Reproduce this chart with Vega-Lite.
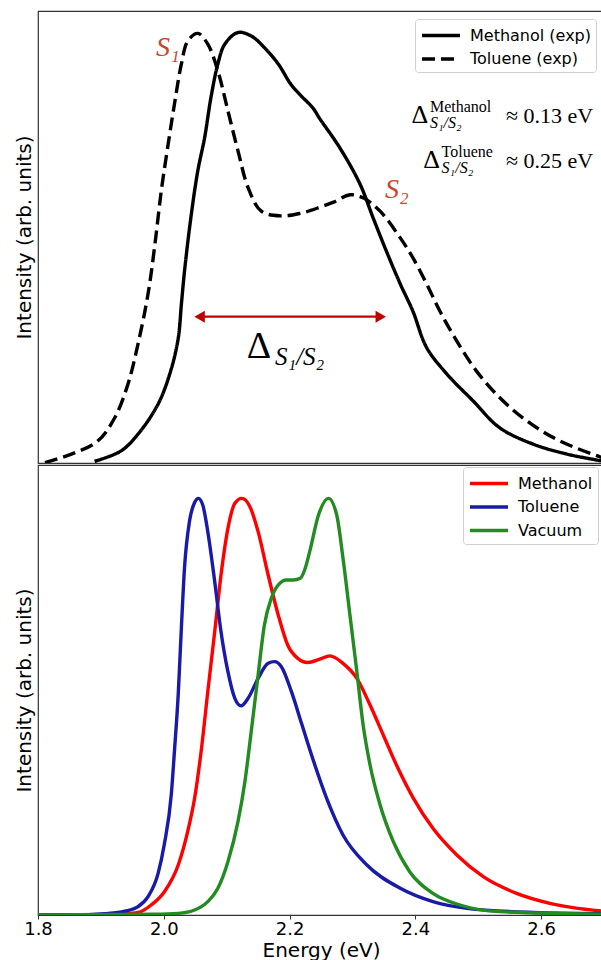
{
  "$schema": "https://vega.github.io/schema/vega-lite/v6.json",
  "padding": {"left": 13, "top": 10, "right": 0, "bottom": 0},
  "spacing": 0,
  "background": "white",
  "config": {
    "view": {"stroke": "#333", "strokeWidth": 1.2},
    "axis": {"grid": false, "labelFont": "DejaVu Sans", "titleFont": "DejaVu Sans", "labelColor": "#000", "titleColor": "#000", "titleFontWeight": "normal", "labelFontSize": 18, "titleFontSize": 20, "tickColor": "#333", "domainColor": "#333"}
  },
  "datasets": {
    "exp": [
      {"series": "Methanol (exp)", "E": 1.890, "I": 0.004},
      {"series": "Methanol (exp)", "E": 1.932, "I": 0.028},
      {"series": "Methanol (exp)", "E": 1.959, "I": 0.067},
      {"series": "Methanol (exp)", "E": 1.991, "I": 0.137},
      {"series": "Methanol (exp)", "E": 2.011, "I": 0.214},
      {"series": "Methanol (exp)", "E": 2.023, "I": 0.29},
      {"series": "Methanol (exp)", "E": 2.028, "I": 0.369},
      {"series": "Methanol (exp)", "E": 2.033, "I": 0.446},
      {"series": "Methanol (exp)", "E": 2.043, "I": 0.569},
      {"series": "Methanol (exp)", "E": 2.054, "I": 0.678},
      {"series": "Methanol (exp)", "E": 2.065, "I": 0.756},
      {"series": "Methanol (exp)", "E": 2.075, "I": 0.849},
      {"series": "Methanol (exp)", "E": 2.086, "I": 0.927},
      {"series": "Methanol (exp)", "E": 2.097, "I": 0.973},
      {"series": "Methanol (exp)", "E": 2.118, "I": 1.0},
      {"series": "Methanol (exp)", "E": 2.139, "I": 0.992},
      {"series": "Methanol (exp)", "E": 2.160, "I": 0.965},
      {"series": "Methanol (exp)", "E": 2.182, "I": 0.927},
      {"series": "Methanol (exp)", "E": 2.202, "I": 0.88},
      {"series": "Methanol (exp)", "E": 2.217, "I": 0.855},
      {"series": "Methanol (exp)", "E": 2.237, "I": 0.825},
      {"series": "Methanol (exp)", "E": 2.248, "I": 0.8},
      {"series": "Methanol (exp)", "E": 2.280, "I": 0.732},
      {"series": "Methanol (exp)", "E": 2.312, "I": 0.648},
      {"series": "Methanol (exp)", "E": 2.333, "I": 0.569},
      {"series": "Methanol (exp)", "E": 2.354, "I": 0.492},
      {"series": "Methanol (exp)", "E": 2.376, "I": 0.416},
      {"series": "Methanol (exp)", "E": 2.396, "I": 0.353},
      {"series": "Methanol (exp)", "E": 2.418, "I": 0.268},
      {"series": "Methanol (exp)", "E": 2.450, "I": 0.207},
      {"series": "Methanol (exp)", "E": 2.492, "I": 0.144},
      {"series": "Methanol (exp)", "E": 2.534, "I": 0.082},
      {"series": "Methanol (exp)", "E": 2.587, "I": 0.044},
      {"series": "Methanol (exp)", "E": 2.640, "I": 0.021},
      {"series": "Methanol (exp)", "E": 2.700, "I": 0.004},
      {"series": "Toluene (exp)", "E": 1.811, "I": 0.001},
      {"series": "Toluene (exp)", "E": 1.852, "I": 0.02},
      {"series": "Toluene (exp)", "E": 1.895, "I": 0.051},
      {"series": "Toluene (exp)", "E": 1.922, "I": 0.105},
      {"series": "Toluene (exp)", "E": 1.943, "I": 0.183},
      {"series": "Toluene (exp)", "E": 1.959, "I": 0.276},
      {"series": "Toluene (exp)", "E": 1.975, "I": 0.393},
      {"series": "Toluene (exp)", "E": 1.986, "I": 0.509},
      {"series": "Toluene (exp)", "E": 1.996, "I": 0.632},
      {"series": "Toluene (exp)", "E": 2.007, "I": 0.741},
      {"series": "Toluene (exp)", "E": 2.017, "I": 0.834},
      {"series": "Toluene (exp)", "E": 2.028, "I": 0.927},
      {"series": "Toluene (exp)", "E": 2.038, "I": 0.98},
      {"series": "Toluene (exp)", "E": 2.054, "I": 0.998},
      {"series": "Toluene (exp)", "E": 2.070, "I": 0.973},
      {"series": "Toluene (exp)", "E": 2.086, "I": 0.911},
      {"series": "Toluene (exp)", "E": 2.102, "I": 0.818},
      {"series": "Toluene (exp)", "E": 2.118, "I": 0.725},
      {"series": "Toluene (exp)", "E": 2.134, "I": 0.64},
      {"series": "Toluene (exp)", "E": 2.155, "I": 0.585},
      {"series": "Toluene (exp)", "E": 2.186, "I": 0.574},
      {"series": "Toluene (exp)", "E": 2.217, "I": 0.58},
      {"series": "Toluene (exp)", "E": 2.248, "I": 0.594},
      {"series": "Toluene (exp)", "E": 2.270, "I": 0.606},
      {"series": "Toluene (exp)", "E": 2.296, "I": 0.623},
      {"series": "Toluene (exp)", "E": 2.317, "I": 0.616},
      {"series": "Toluene (exp)", "E": 2.344, "I": 0.585},
      {"series": "Toluene (exp)", "E": 2.376, "I": 0.523},
      {"series": "Toluene (exp)", "E": 2.396, "I": 0.477},
      {"series": "Toluene (exp)", "E": 2.418, "I": 0.416},
      {"series": "Toluene (exp)", "E": 2.439, "I": 0.353},
      {"series": "Toluene (exp)", "E": 2.466, "I": 0.283},
      {"series": "Toluene (exp)", "E": 2.497, "I": 0.214},
      {"series": "Toluene (exp)", "E": 2.534, "I": 0.152},
      {"series": "Toluene (exp)", "E": 2.577, "I": 0.098},
      {"series": "Toluene (exp)", "E": 2.630, "I": 0.051},
      {"series": "Toluene (exp)", "E": 2.700, "I": 0.011}
    ],
    "theory": [
      {"series": "Methanol", "E": 1.800, "I": 0.0},
      {"series": "Methanol", "E": 1.900, "I": 0.0},
      {"series": "Methanol", "E": 1.932, "I": 0.002},
      {"series": "Methanol", "E": 1.959, "I": 0.006},
      {"series": "Methanol", "E": 1.980, "I": 0.024},
      {"series": "Methanol", "E": 2.001, "I": 0.056},
      {"series": "Methanol", "E": 2.023, "I": 0.12},
      {"series": "Methanol", "E": 2.038, "I": 0.2},
      {"series": "Methanol", "E": 2.049, "I": 0.28},
      {"series": "Methanol", "E": 2.060, "I": 0.4},
      {"series": "Methanol", "E": 2.070, "I": 0.536},
      {"series": "Methanol", "E": 2.081, "I": 0.68},
      {"series": "Methanol", "E": 2.091, "I": 0.816},
      {"series": "Methanol", "E": 2.102, "I": 0.928},
      {"series": "Methanol", "E": 2.113, "I": 0.988},
      {"series": "Methanol", "E": 2.124, "I": 1.0},
      {"series": "Methanol", "E": 2.137, "I": 0.98},
      {"series": "Methanol", "E": 2.150, "I": 0.92},
      {"series": "Methanol", "E": 2.166, "I": 0.816},
      {"series": "Methanol", "E": 2.182, "I": 0.72},
      {"series": "Methanol", "E": 2.197, "I": 0.648},
      {"series": "Methanol", "E": 2.213, "I": 0.616},
      {"series": "Methanol", "E": 2.229, "I": 0.606},
      {"series": "Methanol", "E": 2.248, "I": 0.614},
      {"series": "Methanol", "E": 2.264, "I": 0.622},
      {"series": "Methanol", "E": 2.285, "I": 0.604},
      {"series": "Methanol", "E": 2.307, "I": 0.568},
      {"series": "Methanol", "E": 2.328, "I": 0.504},
      {"series": "Methanol", "E": 2.349, "I": 0.432},
      {"series": "Methanol", "E": 2.370, "I": 0.36},
      {"series": "Methanol", "E": 2.397, "I": 0.28},
      {"series": "Methanol", "E": 2.428, "I": 0.208},
      {"series": "Methanol", "E": 2.466, "I": 0.144},
      {"series": "Methanol", "E": 2.508, "I": 0.092},
      {"series": "Methanol", "E": 2.561, "I": 0.052},
      {"series": "Methanol", "E": 2.614, "I": 0.028},
      {"series": "Methanol", "E": 2.700, "I": 0.009},
      {"series": "Toluene", "E": 1.800, "I": 0.0},
      {"series": "Toluene", "E": 1.880, "I": 0.001},
      {"series": "Toluene", "E": 1.906, "I": 0.003},
      {"series": "Toluene", "E": 1.938, "I": 0.009},
      {"series": "Toluene", "E": 1.959, "I": 0.02},
      {"series": "Toluene", "E": 1.975, "I": 0.044},
      {"series": "Toluene", "E": 1.991, "I": 0.1},
      {"series": "Toluene", "E": 2.001, "I": 0.171},
      {"series": "Toluene", "E": 2.012, "I": 0.29},
      {"series": "Toluene", "E": 2.017, "I": 0.394},
      {"series": "Toluene", "E": 2.023, "I": 0.53},
      {"series": "Toluene", "E": 2.028, "I": 0.69},
      {"series": "Toluene", "E": 2.033, "I": 0.834},
      {"series": "Toluene", "E": 2.041, "I": 0.946},
      {"series": "Toluene", "E": 2.049, "I": 0.99},
      {"series": "Toluene", "E": 2.055, "I": 1.0},
      {"series": "Toluene", "E": 2.062, "I": 0.984},
      {"series": "Toluene", "E": 2.070, "I": 0.92},
      {"series": "Toluene", "E": 2.081, "I": 0.8},
      {"series": "Toluene", "E": 2.091, "I": 0.68},
      {"series": "Toluene", "E": 2.102, "I": 0.584},
      {"series": "Toluene", "E": 2.113, "I": 0.52},
      {"series": "Toluene", "E": 2.123, "I": 0.502},
      {"series": "Toluene", "E": 2.134, "I": 0.52},
      {"series": "Toluene", "E": 2.150, "I": 0.568},
      {"series": "Toluene", "E": 2.166, "I": 0.604},
      {"series": "Toluene", "E": 2.176, "I": 0.608},
      {"series": "Toluene", "E": 2.187, "I": 0.596},
      {"series": "Toluene", "E": 2.203, "I": 0.536},
      {"series": "Toluene", "E": 2.219, "I": 0.46},
      {"series": "Toluene", "E": 2.238, "I": 0.37},
      {"series": "Toluene", "E": 2.259, "I": 0.28},
      {"series": "Toluene", "E": 2.285, "I": 0.192},
      {"series": "Toluene", "E": 2.323, "I": 0.12},
      {"series": "Toluene", "E": 2.376, "I": 0.064},
      {"series": "Toluene", "E": 2.428, "I": 0.032},
      {"series": "Toluene", "E": 2.482, "I": 0.016},
      {"series": "Toluene", "E": 2.588, "I": 0.006},
      {"series": "Toluene", "E": 2.700, "I": 0.003},
      {"series": "Vacuum", "E": 1.800, "I": 0.0},
      {"series": "Vacuum", "E": 1.985, "I": 0.002},
      {"series": "Vacuum", "E": 2.023, "I": 0.004},
      {"series": "Vacuum", "E": 2.049, "I": 0.012},
      {"series": "Vacuum", "E": 2.070, "I": 0.032},
      {"series": "Vacuum", "E": 2.086, "I": 0.064},
      {"series": "Vacuum", "E": 2.102, "I": 0.128},
      {"series": "Vacuum", "E": 2.118, "I": 0.224},
      {"series": "Vacuum", "E": 2.129, "I": 0.32},
      {"series": "Vacuum", "E": 2.139, "I": 0.44},
      {"series": "Vacuum", "E": 2.150, "I": 0.576},
      {"series": "Vacuum", "E": 2.160, "I": 0.696},
      {"series": "Vacuum", "E": 2.171, "I": 0.76},
      {"series": "Vacuum", "E": 2.182, "I": 0.792},
      {"series": "Vacuum", "E": 2.195, "I": 0.804},
      {"series": "Vacuum", "E": 2.206, "I": 0.804},
      {"series": "Vacuum", "E": 2.217, "I": 0.808},
      {"series": "Vacuum", "E": 2.224, "I": 0.828},
      {"series": "Vacuum", "E": 2.232, "I": 0.872},
      {"series": "Vacuum", "E": 2.246, "I": 0.96},
      {"series": "Vacuum", "E": 2.262, "I": 1.0},
      {"series": "Vacuum", "E": 2.275, "I": 0.96},
      {"series": "Vacuum", "E": 2.285, "I": 0.856},
      {"series": "Vacuum", "E": 2.296, "I": 0.72},
      {"series": "Vacuum", "E": 2.307, "I": 0.584},
      {"series": "Vacuum", "E": 2.317, "I": 0.456},
      {"series": "Vacuum", "E": 2.328, "I": 0.36},
      {"series": "Vacuum", "E": 2.344, "I": 0.264},
      {"series": "Vacuum", "E": 2.365, "I": 0.176},
      {"series": "Vacuum", "E": 2.391, "I": 0.104},
      {"series": "Vacuum", "E": 2.428, "I": 0.052},
      {"series": "Vacuum", "E": 2.471, "I": 0.024},
      {"series": "Vacuum", "E": 2.534, "I": 0.008},
      {"series": "Vacuum", "E": 2.700, "I": 0.002}
    ],
    "notes": [
      {"kind": "S", "text": "S₁", "E": 1.9876, "I": 0.9455},
      {"kind": "S", "text": "S₂", "E": 2.3517, "I": 0.6163},
      {"kind": "bigDelta", "text": "Δ", "E": 2.1318, "I": 0.2446},
      {"kind": "bigSub", "text": "S₁/S₂", "E": 2.1768, "I": 0.2277},
      {"kind": "delta", "text": "Δ", "E": 2.4205, "I": 0.7905},
      {"kind": "sup", "text": "Methanol", "E": 2.4232, "I": 0.8152},
      {"kind": "sub", "text": "S₁/S₂", "E": 2.4232, "I": 0.7779},
      {"kind": "main", "text": "≈ 0.13 eV", "E": 2.6828, "I": 0.7898},
      {"kind": "delta", "text": "Δ", "E": 2.4391, "I": 0.686},
      {"kind": "sup", "text": "Toluene", "E": 2.4418, "I": 0.7115},
      {"kind": "sub", "text": "S₁/S₂", "E": 2.4418, "I": 0.6733},
      {"kind": "main", "text": "≈ 0.25 eV", "E": 2.6828, "I": 0.6853}
    ]
  },
  "resolve": {"scale": {"x": "independent", "y": "independent"}},
  "vconcat": [
    {
      "width": 566,
      "height": 452,
      "encoding": {
        "x": {"field": "E", "type": "quantitative", "scale": {"domain": [1.8, 2.7], "nice": false, "zero": false}, "axis": null},
        "y": {"field": "I", "type": "quantitative", "scale": {"domain": [0, 1.05], "nice": false}, "axis": {"title": "Intensity (arb. units)", "labels": false, "ticks": false, "domain": false, "grid": false, "titlePadding": 4}}
      },
      "layer": [
        {
          "data": {"name": "exp"},
          "mark": {"type": "line", "color": "#000", "strokeWidth": 3.4, "interpolate": "catmull-rom", "clip": true},
          "encoding": {
            "strokeDash": {"field": "series", "type": "nominal", "scale": {"domain": ["Methanol (exp)", "Toluene (exp)"], "range": [[1, 0], [13, 6]]},
              "legend": {"title": null, "orient": "none", "legendX": 377, "legendY": 8, "labelFontSize": 16, "labelFont": "DejaVu Sans", "labelColor": "#000", "symbolType": "M-1,0L3,0", "symbolSize": 361, "symbolStrokeWidth": 3.4, "symbolStrokeColor": "#000", "symbolFillColor": "transparent", "labelOffset": 27, "padding": 5, "rowPadding": 3.5, "strokeColor": "#d0d0d0", "fillColor": "#ffffff", "cornerRadius": 3}}
          }
        },
        {
          "data": {"values": [{"E": 2.056, "E2": 2.346, "I": 0.34}]},
          "mark": {"type": "rule", "color": "#c00000", "strokeWidth": 2.4},
          "encoding": {"x2": {"field": "E2"}}
        },
        {
          "data": {"values": [{"E": 2.057, "I": 0.34}]},
          "mark": {"type": "point", "shape": "triangle-left", "filled": true, "color": "#c00000", "size": 144, "opacity": 1}
        },
        {
          "data": {"values": [{"E": 2.345, "I": 0.34}]},
          "mark": {"type": "point", "shape": "triangle-right", "filled": true, "color": "#c00000", "size": 144, "opacity": 1}
        },
        {
          "data": {"name": "notes"},
          "transform": [{"filter": "datum.kind === 'S'"}],
          "mark": {"type": "text", "font": "Liberation Serif", "fontStyle": "italic", "fontSize": 28, "color": "#c8472a", "align": "left", "baseline": "alphabetic"},
          "encoding": {"text": {"field": "text"}}
        },
        {
          "data": {"name": "notes"},
          "transform": [{"filter": "datum.kind === 'bigDelta'"}],
          "mark": {"type": "text", "font": "Liberation Serif", "fontSize": 38, "color": "#000", "align": "left", "baseline": "alphabetic"},
          "encoding": {"text": {"field": "text"}}
        },
        {
          "data": {"name": "notes"},
          "transform": [{"filter": "datum.kind === 'bigSub'"}],
          "mark": {"type": "text", "font": "Liberation Serif", "fontStyle": "italic", "fontSize": 25, "color": "#000", "align": "left", "baseline": "alphabetic"},
          "encoding": {"text": {"field": "text"}}
        },
        {
          "data": {"name": "notes"},
          "transform": [{"filter": "datum.kind === 'delta'"}],
          "mark": {"type": "text", "font": "Liberation Serif", "fontSize": 26, "color": "#000", "align": "right", "baseline": "alphabetic"},
          "encoding": {"text": {"field": "text"}}
        },
        {
          "data": {"name": "notes"},
          "transform": [{"filter": "datum.kind === 'sup'"}],
          "mark": {"type": "text", "font": "Liberation Serif", "fontSize": 16, "color": "#000", "align": "left", "baseline": "alphabetic"},
          "encoding": {"text": {"field": "text"}}
        },
        {
          "data": {"name": "notes"},
          "transform": [{"filter": "datum.kind === 'sub'"}],
          "mark": {"type": "text", "font": "Liberation Serif", "fontStyle": "italic", "fontSize": 16, "color": "#000", "align": "left", "baseline": "alphabetic"},
          "encoding": {"text": {"field": "text"}}
        },
        {
          "data": {"name": "notes"},
          "transform": [{"filter": "datum.kind === 'main'"}],
          "mark": {"type": "text", "font": "Liberation Serif", "fontSize": 22, "color": "#000", "align": "right", "baseline": "alphabetic"},
          "encoding": {"text": {"field": "text"}}
        }
      ]
    },
    {
      "width": 566,
      "height": 450,
      "data": {"name": "theory"},
      "mark": {"type": "line", "strokeWidth": 3.4, "interpolate": "monotone", "clip": true},
      "encoding": {
        "x": {"field": "E", "type": "quantitative", "scale": {"domain": [1.8, 2.7], "nice": false, "zero": false},
          "axis": {"title": "Energy (eV)", "values": [1.8, 2.0, 2.2, 2.4, 2.6], "format": ".1f", "domain": false, "ticks": true, "tickSize": 4, "tickWidth": 1, "labelPadding": 1, "titlePadding": 2, "labelFlush": false}},
        "y": {"field": "I", "type": "quantitative", "scale": {"domain": [0, 1.08], "nice": false}, "axis": {"title": "Intensity (arb. units)", "labels": false, "ticks": false, "domain": false, "grid": false, "titlePadding": 4}},
        "color": {"field": "series", "type": "nominal", "scale": {"domain": ["Methanol", "Toluene", "Vacuum"], "range": ["#ff0000", "#1a1aa8", "#228b22"]},
          "legend": {"title": null, "orient": "none", "legendX": 425, "legendY": 456, "labelFontSize": 16, "labelFont": "DejaVu Sans", "labelColor": "#000", "symbolType": "M-1,0L3,0", "symbolSize": 361, "symbolStrokeWidth": 3.4, "symbolFillColor": "transparent", "labelOffset": 27, "padding": 5, "rowPadding": 3.5, "strokeColor": "#d0d0d0", "fillColor": "#ffffff", "cornerRadius": 3}}
      }
    }
  ]
}
